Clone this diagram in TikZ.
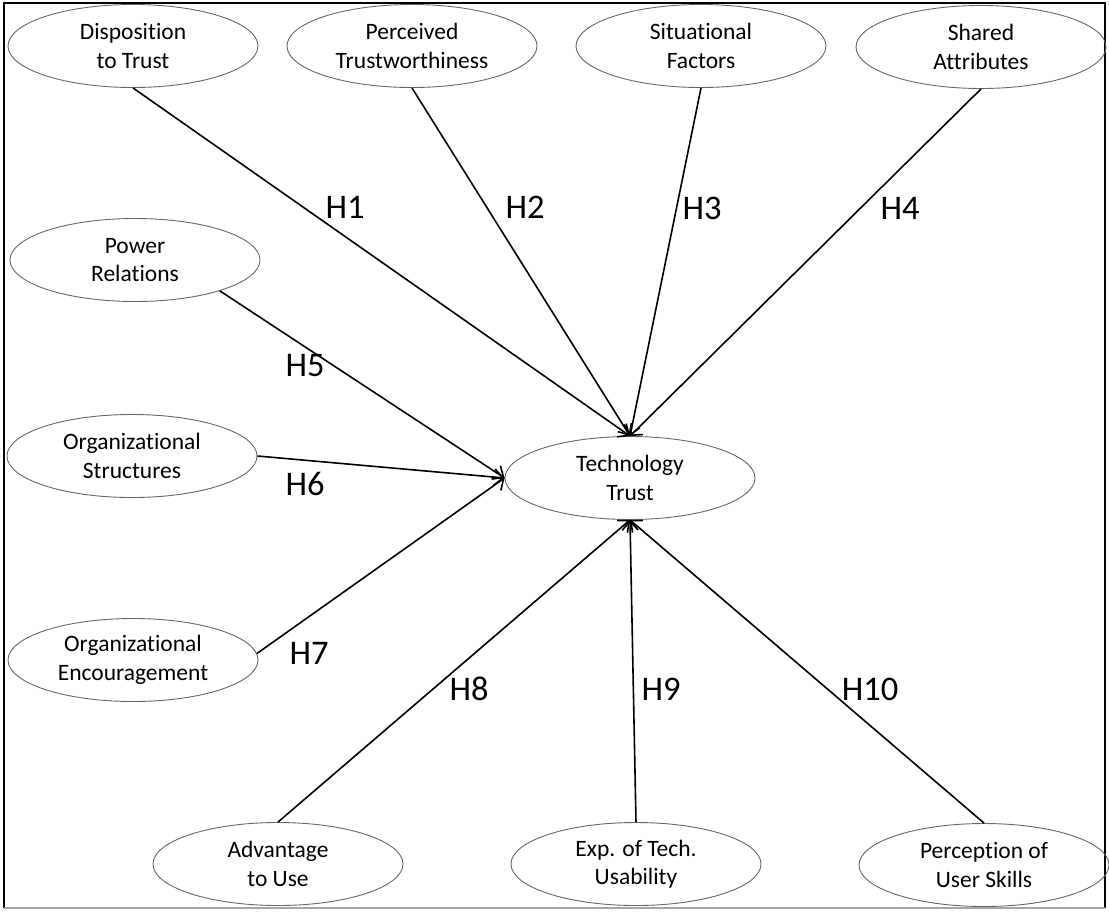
\documentclass[tikz,border=0pt]{standalone}
\usepackage{fontspec}
\setmainfont{Carlito}[Ligatures={NoCommon,NoRequired,NoContextual}]
\usetikzlibrary{arrows.meta,shapes.geometric}
\begin{document}
\begin{tikzpicture}[x=1pt,y=-1pt,
  factor/.style={ellipse, draw=black!60, line width=0.9pt, minimum width=250pt,
    minimum height=83pt, inner sep=0pt, align=center,
    font=\fontsize{23.5}{28.5}\selectfont},
  link/.style={line width=1.6pt, -{Straight Barb[length=9pt,width=16pt]}},
  hyp/.style={font=\fontsize{34.5}{40}\selectfont, inner sep=0pt}]
\useasboundingbox (0,0) rectangle (1109,911);

% outer frame
\draw[line width=2pt] (4,908) -- (4,3) -- (1105,3) -- (1105,908);
\draw[black!35, line width=2pt] (4,908) -- (1105,908);

% antecedent factors
\node[factor] (dt) at (133,46)  {Disposition\\to Trust};
\node[factor] (pt) at (412,46)  {Perceived\\Trustworthiness};
\node[factor] (sf) at (701,46)  {Situational\\Factors};
\node[factor] (sa) at (981,47)  {Shared\\Attributes};
\node[factor] (pr) at (135,260) {Power\\Relations};
\node[factor] (os) at (132,456) {Organizational\\Structures};
\node[factor] (oe) at (133,660) {Organizational\\Encouragement};
\node[factor] (au) at (278,864) {Advantage\\to Use};
\node[factor] (ex) at (636,864) {Exp. of Tech.\\Usability};
\node[factor] (ps) at (984,865) {Perception of\\User Skills};

% outcome
\node[factor] (tt) at (630,478) {Technology\\Trust};

% hypothesised paths
\draw[link] (dt.south) -- (tt.north);
\draw[link] (pt.south) -- (tt.north);
\draw[link] (sf.south) -- (tt.north);
\draw[link] (sa.south) -- (tt.north);
\draw[link] (pr.-20)   -- (tt.west);
\draw[link] (os.east)  -- (tt.west);
\draw[link] (oe.3)     -- (tt.west);
\draw[link] (au.north) -- (tt.south);
\draw[link] (ex.north) -- (tt.south);
\draw[link] (ps.north) -- (tt.south);

% hypothesis labels
\node[hyp] (h1)  at (345,207) {H1};
\node[hyp] (h2)  at (525,207) {H2};
\node[hyp] (h3)  at (702,208) {H3};
\node[hyp] (h4)  at (900,208) {H4};
\node[hyp] (h5)  at (305,366) {H5};
\node[hyp] (h6)  at (305,484) {H6};
\node[hyp] (h7)  at (309,653) {H7};
\node[hyp] (h8)  at (469,689) {H8};
\node[hyp] (h9)  at (661,689) {H9};
\node[hyp] (h10) at (870,689) {H10};
\end{tikzpicture}
\end{document}
